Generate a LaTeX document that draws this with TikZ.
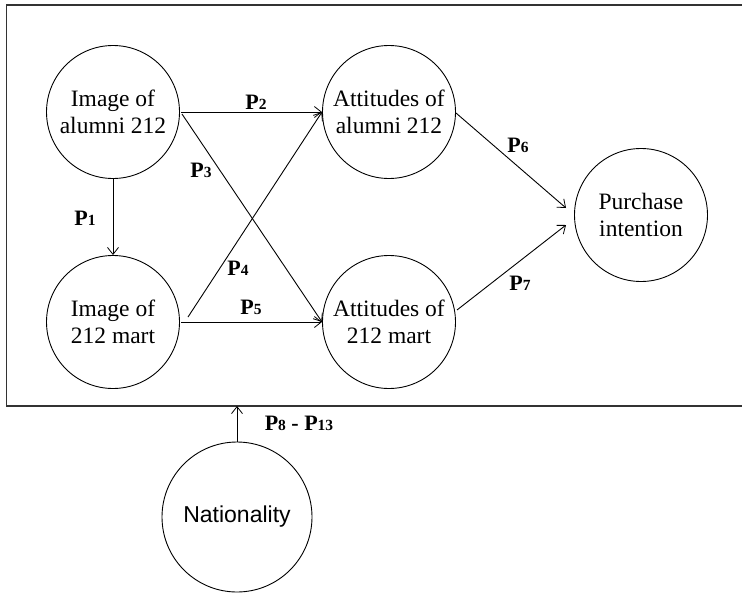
\documentclass[tikz,border=0pt]{standalone}
\usepackage{fontspec}
\setmainfont{Liberation Serif}
\newfontfamily\arialfont{Liberation Sans}
\usetikzlibrary{arrows.meta,calc}
\tikzset{
  concept/.style={circle, draw, line width=0.9pt, minimum size=133pt, inner sep=0pt, align=center,
    font=\fontsize{23.5}{27}\selectfont},
  link/.style={line width=0.9pt, -{Straight Barb[length=7pt,width=11pt,line width=0.8pt]}},
  plabel/.style={font=\fontsize{22}{26}\selectfont\bfseries, inner sep=0pt},
  frame/.style={line width=1.4pt, draw=black!80}
}
\newcommand{\Pl}[1]{P{\fontsize{15.5}{18}\selectfont #1}}
\begin{document}
\begin{tikzpicture}[x=1pt,y=-1pt]
\useasboundingbox (0,0) rectangle (742,592);
\fill[white] (0,0) rectangle (742,592);
\draw[frame] (6.5,5) rectangle (750,406);

\node[concept] (ia) at (113,112) {Image of\\alumni 212};
\node[concept] (im) at (113,322) {Image of\\212 mart};
\node[concept] (aa) at (389,112) {Attitudes of\\alumni 212};
\node[concept] (am) at (389,322) {Attitudes of\\212 mart};
\node[concept] (pi) at (641,215) {Purchase\\intention};
\node[concept, minimum size=150pt, font=\arialfont\fontsize{23}{27}\selectfont] (na) at (237,517) {Nationality};

\coordinate (iaR) at (181,112);
\coordinate (iaRb) at (182,114);
\coordinate (imR) at (181,322);
\coordinate (imRt) at (188,317);
\coordinate (aaL) at (322,112);
\coordinate (amL) at (322,322);
\coordinate (aaR) at (456,113);
\coordinate (amR) at (457,310);
\coordinate (pi1) at (566,208);
\coordinate (pi2) at (566,225);
\coordinate (boxb) at (237,406);

\draw[link] (ia.south) -- (im.north);
\draw[link] (iaR) -- (aaL);
\draw[link] (imR) -- (amL);
\draw[link] (iaRb) -- (amL);
\draw[link] (imRt) -- (aaL);
\draw[link] (aaR) -- (pi1);
\draw[link] (amR) -- (pi2);
\draw[link] (na.north) -- (boxb);

\node[plabel] (p1) at (85,218) {\Pl{1}};
\node[plabel] (p2) at (256,102) {\Pl{2}};
\node[plabel] (p3) at (201,170) {\Pl{3}};
\node[plabel] (p4) at (238,268) {\Pl{4}};
\node[plabel] (p5) at (251,307) {\Pl{5}};
\node[plabel] (p6) at (518,145) {\Pl{6}};
\node[plabel] (p7) at (520,283) {\Pl{7}};
\node[plabel] (p8) at (299,423) {\Pl{8} - \Pl{13}};
\end{tikzpicture}
\end{document}
